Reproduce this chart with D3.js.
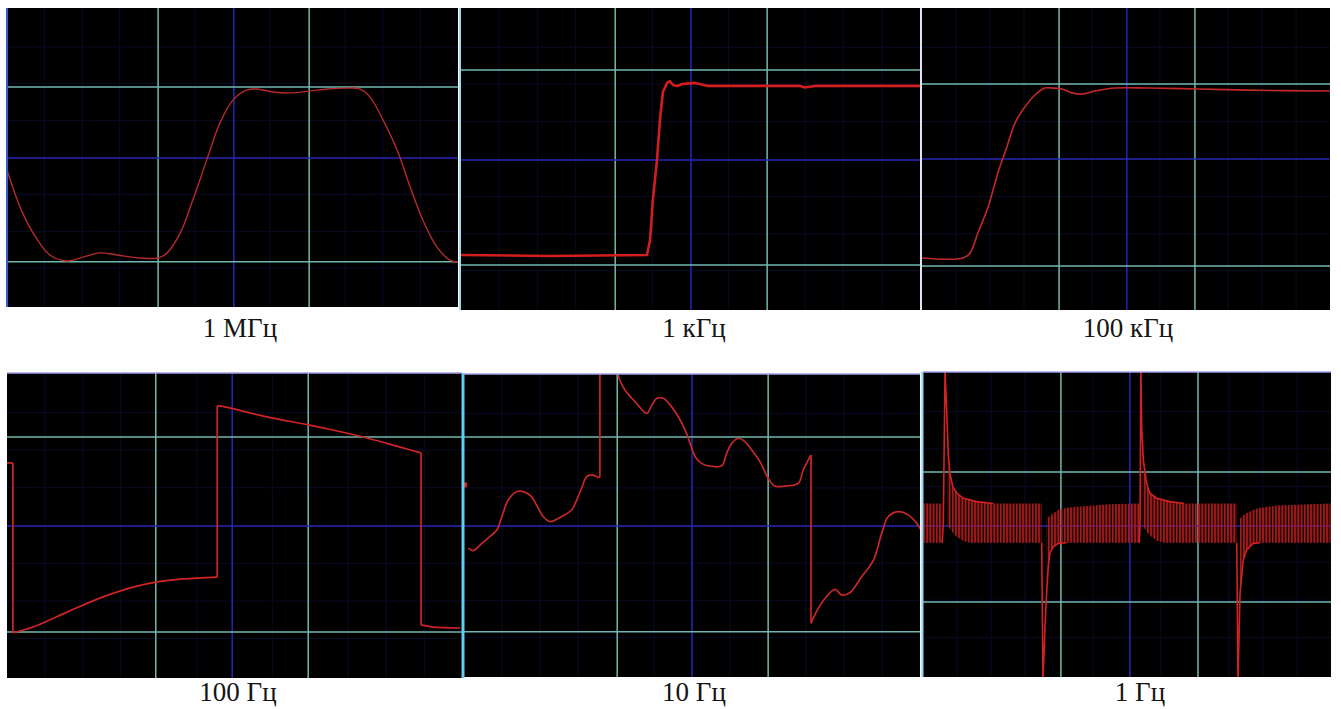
<!DOCTYPE html>
<html>
<head>
<meta charset="utf-8">
<script src="https://cdn.jsdelivr.net/npm/d3@7/dist/d3.min.js"></script>
<style type="text/css">
body { margin: 0; background: #fff; }
.label { font-family: "Liberation Serif", "Times New Roman", serif; font-size: 27px; fill: #151515; }
.major { stroke: #72b8b0; stroke-width: 1.5; }
.center { stroke: #2626b8; stroke-width: 1.5; }
.minor { stroke: #0a0a28; stroke-width: 1; }
.trace { fill: none; stroke-linejoin: round; }
</style>
</head>
<body>
<script type="text/javascript">
var width = 1341,
    height = 709;

// captions under each screen
var labels = ['1 МГц', '1 кГц', '100 кГц', '100 Гц', '10 Гц', '1 Гц'];

// grid lines, % of the screen (x from left, y from bottom); middle one is the blue axis
var vLines = [[33.5, 50.3, 67.0], [33.6, 50.1, 66.7], [33.6, 50.2, 66.9],
              [32.7, 49.5, 66.2], [33.6, 50.0, 66.7], [33.8, 50.7, 67.4]];
var hLines = [[73.6, 49.8, 15.1], [79.5, 49.7, 14.9], [74.8, 50.0, 14.6],
              [79.0, 49.8, 15.1], [79.2, 49.8, 14.9], [67.2, 49.5, 24.6]];
var minorX = [8.3, 16.7, 25, 41.7, 58.3, 75, 83.3, 91.7];
var minorY = [13, 25.2, 37.6, 62.4, 74.8, 87];

var trace1MHz = [[0,45.8],[2.9,33.4],[5.8,24.7],[9.5,17.4],[13.3,15.4],[16.9,16.7],[20.6,18.1],
    [24.4,17.4],[29.5,16.4],[33.5,16.4],[35.5,18.1],[38.4,24.7],[41.2,35.8],[44.3,49.2],
    [47.2,61.5],[50.1,69.2],[53.2,72.6],[55.4,72.9],[59.0,71.9],[62.7,71.6],[67.2,72.2],
    [71.0,72.9],[75.4,73.2],[78.3,72.9],[80.5,70.2],[83.4,62.5],[86.5,52.5],[89.4,40.1],
    [92.2,29.1],[95.3,20.1],[98.2,15.7],[100,15.1]];

var trace1kHz = [[0,18.2],[19.4,17.9],[40.5,18.2],[41.2,23.2],[41.8,36.4],[42.7,49.7],
    [43.4,63.9],[44.0,72.2],[44.9,75.2],[45.5,75.8],[46.2,74.5],[47.1,74.2],[48.1,74.8],
    [51.0,75.2],[53.8,74.2],[73.9,74.2],[74.9,73.7],[77.1,74.2],[100,74.2]];

var trace100kHz = [[0,17.2],[10.0,17.2],[11.8,18.9],[13.7,25.5],[16.2,34.1],[18.6,45.4],
    [20.8,54.0],[22.8,61.9],[25.2,67.2],[27.7,71.2],[30.1,73.5],[31.9,73.5],[34.3,73.2],
    [36.8,71.9],[39.2,71.5],[42.4,72.5],[47.3,73.5],[55.4,73.5],[67.6,73.2],[79.9,72.8],[100,72.5]];

// 100 Hz: pieces, the two-point ones are the vertical edges
var trace100Hz = [
    [[0,70.5],[1.3,70.5]],
    [[1.3,70.5],[1.3,14.8]],
    [[1.3,14.8],[5.7,16.7],[13.2,21.6],[20.4,26.2],[27.7,29.8],[33.0,31.5],[38.7,32.5],[46.2,33.1]],
    [[46.2,33.1],[46.2,89.2]],
    [[46.2,89.2],[46.8,89.2],[57.1,85.6],[66.2,83.0],[71.6,81.3],[79.1,78.7],[86.4,75.7],[91.0,73.8]],
    [[91.0,73.8],[91.0,17.4]],
    [[91.0,17.4],[93.6,16.7],[99.6,16.4]]
];

// 10 Hz: pieces between the jumps
var trace10Hz = [
    [[0.95,42.5],[2.0,41.7],[3.9,44.1],[6.1,46.9],[7.2,48.5],[8.3,52.9],[9.7,58.4],
     [11.6,61.2],[13.0,61.2],[14.8,59.5],[15.9,56.8],[17.4,52.9],[18.9,51.3],[20.7,52.4],
     [23.6,55.1],[24.7,58.4],[25.8,62.3],[26.9,66.1],[28.0,66.7],[29.5,65.9],[29.8,66.1]],
    [[29.8,66.1],[29.8,115]],
    [[33.8,115],[33.8,99.7],[35.3,94.7],[37.5,90.9],[40.1,87.0],[41.2,89.8],
     [42.3,92.0],[43.7,92.0],[45.2,89.8],[47.0,85.9],[48.5,81.5],[49.6,77.1],[50.7,72.7],
     [52.1,70.5],[53.6,69.7],[56.5,69.7],[57.6,73.8],[58.7,77.1],[60.2,78.8],[61.6,77.7],
     [63.1,74.9],[64.9,71.1],[66.7,65.6],[68.2,63.0],[70.4,63.0],[73.3,63.9],[74.4,68.3],[76.1,73.3]],
    [[76.1,73.3],[76.1,17.7]],
    [[76.1,17.7],[77.3,21.6],[79.2,26.0],[81.4,28.9],[82.8,27.1],[84.6,27.8],
     [87.2,33.1],[89.8,38.6],[91.6,47.4],[93.0,52.9],[95.2,54.6],[97.4,53.5],[99.3,50.7],[100.4,48.0]]
];
var marker10Hz = [[0,63.4],[0.7,63.4]];

// 1 Hz: envelope of the dense ripple band [x, top, bottom] and the spikes
var band1Hz = [
    [[0.1,56.9,44.0],[4.7,56.9,44.0]],
    [[6.0,75,49.5],[6.6,66.8,48.5],[7.3,62.4,47.3],[8.3,60.2,46],[9.9,58.6,44.6],[11.5,58,44.0],
     [13.2,57.5,44.0],[17.2,56.9,44.0],[29.1,56.9,44.0]],
    [[30.3,52,27.4],[30.7,52.5,36.2],[31.1,52.8,40.6],[31.9,53.8,42.7],[32.8,54.4,43.4],
     [33.2,54.8,43.8],[35.2,55.5,44.0],[39.3,56.0,44.0],[45.8,56.6,44.0],[53.1,56.9,44.0]],
    [[53.8,76,49.5],[54.4,67,48.5],[55.0,62.5,47.3],[56.0,60.2,46],[57.5,58.6,44.6],[59,58,44.0],
     [60.5,57.5,44.0],[64,56.9,44.0],[76.9,56.9,44.0]],
    [[77.7,52,27.4],[78.5,53,38.4],[79.3,53.8,41.6],[80.1,54.2,42.7],[80.9,54.8,43.8],
     [82.6,55.5,44.0],[86.7,56.2,44.0],[99.9,56.9,44.0]]
];
var spikes1Hz = [
    [[4.7,44.0],[4.98,50.4],[5.4,100.5],[5.8,87.5],[6.2,73.3],[6.6,66.8],[7.3,62.4],[8.3,60.2],
     [9.9,58.6],[13.2,57.5],[17.2,56.9]],
    [[29.1,44.0],[29.4,-2],[29.9,16.5],[30.3,27.4],[30.7,36.2],[31.1,40.6],[31.9,42.7],
     [33.2,43.8],[35.2,44.0]],
    [[53.0,44.0],[53.2,50],[53.4,102],[53.6,82.1],[54.0,71.1],[54.8,63.5],[55.6,60.2],
     [57.3,58.6],[60.5,57.5],[64,56.9]],
    [[76.9,44.0],[77.2,-2],[77.7,27.4],[78.5,38.4],[79.3,41.6],[80.9,43.8],[82.6,44.0]]
];

// screen boxes on the page
var boxes = [
    {x: 7,   y: 8,   w: 451, h: 299, lx: 240,  ly: 337},
    {x: 461, y: 8,   w: 459, h: 302, lx: 694,  ly: 337},
    {x: 922, y: 8,   w: 408, h: 302, lx: 1128, ly: 337},
    {x: 7,   y: 373, w: 455, h: 305, lx: 238,  ly: 701},
    {x: 464, y: 374, w: 456, h: 303, lx: 694,  ly: 701},
    {x: 923, y: 372, w: 408, h: 305, lx: 1140, ly: 701}
];

var svg = d3.select('body')
    .append('svg')
        .attr('width', width)
        .attr('height', height);

var defs = svg.append('defs');
var pat = defs.append('pattern')
    .attr('id', 'ripple')
    .attr('patternUnits', 'userSpaceOnUse')
    .attr('width', 3.2)
    .attr('height', 10);
pat.append('rect')
    .attr('x', 0).attr('y', 0)
    .attr('width', 2).attr('height', 10)
    .attr('fill', '#a81a1a');

var smooth = d3.curveCatmullRom.alpha(0.5);

var screens = [];
boxes.forEach(function(b, i){
    defs.append('clipPath').attr('id', 'clip' + i)
        .append('rect').attr('width', b.w).attr('height', b.h);

    var g = svg.append('g').attr('transform', 'translate(' + b.x + ',' + b.y + ')');
    var x = d3.scaleLinear().domain([0, 100]).range([0, b.w]);
    var y = d3.scaleLinear().domain([0, 100]).range([b.h, 0]);

    g.append('rect').attr('width', b.w).attr('height', b.h).attr('fill', '#000');

    g.selectAll('line.mv').data(minorX).enter().append('line')
        .attr('class', 'minor')
        .attr('x1', function(d){ return x(d); }).attr('x2', function(d){ return x(d); })
        .attr('y1', 0).attr('y2', b.h);
    g.selectAll('line.mh').data(minorY).enter().append('line')
        .attr('class', 'minor')
        .attr('y1', function(d){ return y(d); }).attr('y2', function(d){ return y(d); })
        .attr('x1', 0).attr('x2', b.w);

    g.selectAll('line.gv').data(vLines[i]).enter().append('line')
        .attr('class', function(d, k){ return k == 1 ? 'center' : 'major'; })
        .attr('x1', function(d){ return x(d); }).attr('x2', function(d){ return x(d); })
        .attr('y1', 0).attr('y2', b.h);
    g.selectAll('line.gh').data(hLines[i]).enter().append('line')
        .attr('class', function(d, k){ return k == 1 ? 'center' : 'major'; })
        .attr('y1', function(d){ return y(d); }).attr('y2', function(d){ return y(d); })
        .attr('x1', 0).attr('x2', b.w);

    var plot = g.append('g').attr('clip-path', 'url(#clip' + i + ')');

    svg.append('text')
        .attr('class', 'label')
        .attr('x', b.lx)
        .attr('y', b.ly)
        .attr('text-anchor', 'middle')
        .text(labels[i]);

    screens.push({g: g, plot: plot, x: x, y: y, b: b});
});

function drawTrace(s, data, color, w, curve){
    var line = d3.line()
        .x(function(d){ return s.x(d[0]); })
        .y(function(d){ return s.y(d[1]); })
        .curve(curve || d3.curveLinear);
    s.plot.append('path')
        .attr('class', 'trace')
        .attr('d', line(data))
        .attr('stroke', color)
        .attr('stroke-width', w);
}

drawTrace(screens[0], trace1MHz, '#b52a2a', 1.4, smooth);
drawTrace(screens[1], trace1kHz, '#d41e1e', 2.6);
drawTrace(screens[2], trace100kHz, '#c42828', 1.6, smooth);
trace100Hz.forEach(function(p){ drawTrace(screens[3], p, '#d02424', 1.7, smooth); });
trace10Hz.forEach(function(p){ drawTrace(screens[4], p, '#c82828', 1.7, smooth); });
drawTrace(screens[4], marker10Hz, '#e02020', 5);

var s6 = screens[5];
var area = d3.area()
    .x(function(d){ return s6.x(d[0]); })
    .y0(function(d){ return s6.y(d[2]); })
    .y1(function(d){ return s6.y(d[1]); });
s6.plot.selectAll('path.band')
    .data(band1Hz)
    .enter()
    .append('path')
        .attr('class', 'band')
        .attr('d', area)
        .attr('fill', 'url(#ripple)');
spikes1Hz.forEach(function(sp){ drawTrace(s6, sp, '#d42222', 1.6); });

// screen edges
var edges = [
    {x: 7,    y1: 8,   y2: 307, c: '#3a5ad0', w: 2},
    {x: 460,  y1: 8,   y2: 310, c: '#a0d8f0', w: 2},
    {x: 921,  y1: 8,   y2: 310, c: '#dde4f4', w: 2},
    {x: 463,  y1: 373, y2: 678, c: '#5cd0f0', w: 3},
    {x: 921,  y1: 372, y2: 677, c: '#e4e8f8', w: 1},
    {x: 922.5,y1: 372, y2: 677, c: '#8fd8f0', w: 2}
];
svg.selectAll('line.edge').data(edges).enter().append('line')
    .attr('x1', function(d){ return d.x; }).attr('x2', function(d){ return d.x; })
    .attr('y1', function(d){ return d.y1; }).attr('y2', function(d){ return d.y2; })
    .attr('stroke', function(d){ return d.c; })
    .attr('stroke-width', function(d){ return d.w; });

// top rims of the lower screens
svg.selectAll('line.rim').data(boxes.slice(3)).enter().append('line')
    .attr('x1', function(d){ return d.x; }).attr('x2', function(d){ return d.x + d.w; })
    .attr('y1', function(d){ return d.y; }).attr('y2', function(d){ return d.y; })
    .attr('stroke', '#a0a0e8')
    .attr('stroke-width', 1.5);
</script>
</body>
</html>
